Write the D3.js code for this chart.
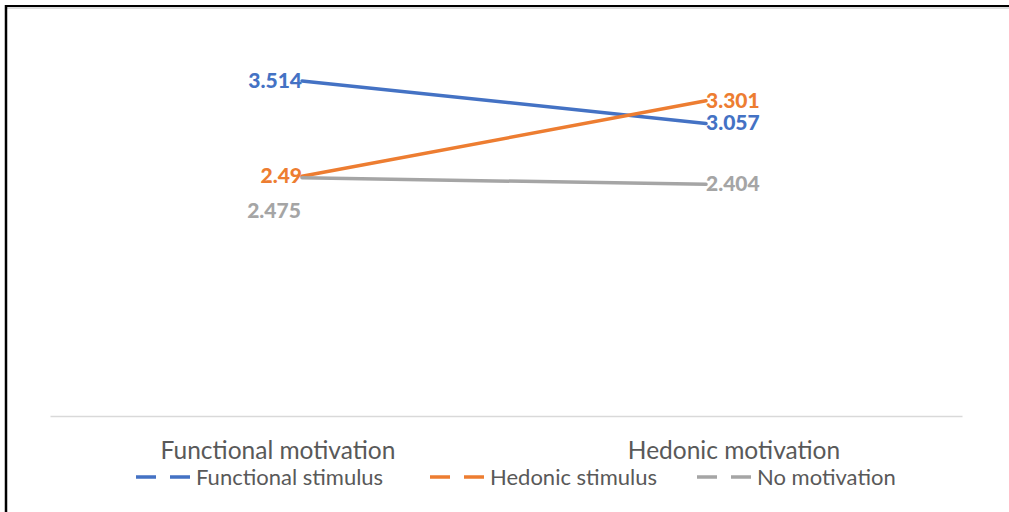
<!DOCTYPE html>
<html>
<head>
<meta charset="utf-8">
<script src="https://cdn.jsdelivr.net/npm/d3@7/dist/d3.min.js"></script>
<style>
  html, body { margin: 0; padding: 0; background: #fff; }
  svg { display: block; }
</style>
</head>
<body>
<svg id="chart" width="1009" height="512"></svg>
<script>
// Categories along the x axis
const categories = ["Functional motivation", "Hedonic motivation"];

// Series names and their mean scores per category
const seriesNames = ["Functional stimulus", "Hedonic stimulus", "No motivation"];
const functionalStimulus = [3.514, 3.057];
const hedonicStimulus = [2.49, 3.301];
const noMotivation = [2.475, 2.404];

const seriesColors = ["#4472C4", "#ED7D31", "#A5A5A5"];

const series = [
  { name: seriesNames[0], values: functionalStimulus, color: seriesColors[0] },
  { name: seriesNames[1], values: hedonicStimulus, color: seriesColors[1] },
  { name: seriesNames[2], values: noMotivation, color: seriesColors[2] }
];

const svg = d3.select("#chart");
const W = 1009, H = 512;

// Frame: top and left edges
svg.append("line").attr("x1", 6).attr("x2", W).attr("y1", 8).attr("y2", 8)
  .attr("stroke", "#bbb").attr("stroke-width", 1);
svg.append("line").attr("x1", 6).attr("x2", W).attr("y1", 6).attr("y2", 6)
  .attr("stroke", "#000").attr("stroke-width", 2.2);
svg.append("line").attr("x1", 6).attr("x2", 6).attr("y1", 5).attr("y2", H)
  .attr("stroke", "#000").attr("stroke-width", 2.5);

// Scales
const xBand = d3.scaleBand().domain(categories).range([50, 962]);
const xPoint = d3.scalePoint().domain(categories).range([302, 706]);
const y = d3.scaleLinear().domain([0, 4]).range([408.4, 35.6]);

// Category axis
const axisY = 416;
const xAxis = d3.axisBottom(xBand).tickSize(0).tickPadding(0);
const gAxis = svg.append("g").attr("transform", `translate(0,${axisY})`).call(xAxis);
gAxis.select(".domain").attr("stroke", "#d9d9d9").attr("stroke-width", 1.5);
gAxis.selectAll(".tick text")
  .attr("y", 43)
  .attr("dy", 0)
  .attr("font-family", "Lato, 'Open Sans', sans-serif")
  .attr("font-size", 24.5)
  .attr("fill", "#595959");

// Lines
const line = d3.line()
  .x((d, i) => xPoint(categories[i]))
  .y(d => y(d));

svg.selectAll("path.series")
  .data(series)
  .join("path")
  .attr("class", "series")
  .attr("d", d => line(d.values))
  .attr("fill", "none")
  .attr("stroke", d => d.color)
  .attr("stroke-width", 3.5)
  .attr("stroke-linecap", "round");

// Data labels
const labelFont = "Lato, 'Open Sans', sans-serif";
const labelOffsets = [
  [{ dx: 0, dy: 7, anchor: "end" }, { dx: 0, dy: 7, anchor: "start" }],
  [{ dx: 0, dy: 7, anchor: "end" }, { dx: 0, dy: 7, anchor: "start" }],
  [{ dx: -28, dy: 40, anchor: "middle" }, { dx: 0, dy: 7, anchor: "start" }]
];

series.forEach((s, si) => {
  s.values.forEach((v, i) => {
    const o = labelOffsets[si][i];
    svg.append("text")
      .attr("x", xPoint(categories[i]) + o.dx)
      .attr("y", y(v) + o.dy)
      .attr("text-anchor", o.anchor)
      .attr("font-family", labelFont)
      .attr("font-weight", "900")
      .attr("font-size", 21)
      .attr("fill", s.color)
      .text(v);
  });
});

// Legend
const legendX = [136, 430, 697];
const legendY = 477;
series.forEach((s, i) => {
  const g = svg.append("g").attr("transform", `translate(${legendX[i]},${legendY})`);
  g.append("line").attr("x1", 0).attr("x2", 54).attr("y1", 0).attr("y2", 0)
    .attr("stroke", s.color).attr("stroke-width", 3.5)
    .attr("stroke-dasharray", "20,14");
  g.append("text")
    .attr("x", 60)
    .attr("y", 8)
    .attr("font-family", labelFont)
    .attr("font-size", 22)
    .attr("fill", "#595959")
    .text(s.name);
});
</script>
</body>
</html>
